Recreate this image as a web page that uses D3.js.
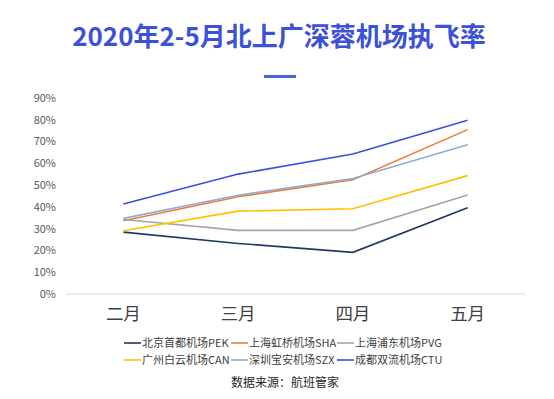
<!DOCTYPE html>
<html>
<head>
<meta charset="utf-8">
<script src="https://cdn.jsdelivr.net/npm/d3@7"></script>
<style>
    body { margin: 0; background: #fff; }
    svg text { font-family: "Noto Sans CJK SC", "Noto Sans", sans-serif; }
</style>
</head>
<body>
<svg id="chart" width="554" height="399"></svg>
<script>
var months = ['二月', '三月', '四月', '五月'];
var airports = ['北京首都机场PEK', '上海虹桥机场SHA', '上海浦东机场PVG', '广州白云机场CAN', '深圳宝安机场SZX', '成都双流机场CTU'];
var colors = ['#203864', '#ed7d31', '#a5a5a5', '#ffc000', '#8faadc', '#3a50dc'];

// 执飞率 (%), one array per airport
var pek = [28.4, 23.2, 19.1, 39.6];
var sha = [33.6, 44.6, 52.4, 75.4];
var pvg = [34.2, 29.2, 29.2, 45.4];
var can = [29.0, 38.0, 39.1, 54.3];
var szx = [34.7, 45.3, 53.0, 68.5];
var ctu = [41.3, 55.0, 64.2, 79.7];
var series = [pek, sha, pvg, can, szx, ctu];

var yTicks = [0, 10, 20, 30, 40, 50, 60, 70, 80, 90];

var svg = d3.select('#chart');

svg.append('text')
    .attr('x', 279).attr('y', 46)
    .attr('text-anchor', 'middle')
    .attr('font-size', 26).attr('font-weight', 'bold')
    .attr('fill', '#3d50d8')
    .text('2020年2-5月北上广深蓉机场执飞率');

svg.append('rect')
    .attr('x', 264).attr('y', 75).attr('width', 32).attr('height', 3)
    .attr('fill', '#4a5fe4');

var x = d3.scaleBand().domain(months).range([66, 525]);
var y = d3.scaleLinear().domain([0, 90]).range([294, 97.8]);

// y labels
var yAxis = d3.axisLeft(y).tickValues(yTicks).tickSize(0).tickPadding(0)
    .tickFormat(function (d) { return d + '%'; });
var gy = svg.append('g').attr('transform', 'translate(56,0)').call(yAxis);
gy.select('.domain').remove();
gy.selectAll('text').attr('font-size', 11).attr('fill', '#595959')
    .style('font-family', '"Noto Sans CJK SC", sans-serif');

// baseline
svg.append('line')
    .attr('x1', 66).attr('x2', 525).attr('y1', y(0)).attr('y2', y(0))
    .attr('stroke', '#d9d9d9').attr('stroke-width', 1);

// x labels
var xAxis = d3.axisBottom(x).tickSize(0).tickPadding(0);
var gx = svg.append('g').attr('transform', 'translate(0,305)').call(xAxis);
gx.select('.domain').remove();
gx.selectAll('text').attr('font-size', 17.5).attr('fill', '#404040')
    .attr('dy', '0.85em')
    .style('font-family', '"Noto Sans CJK SC", sans-serif');

var line = d3.line()
    .x(function (d, i) { return x(months[i]) + x.bandwidth() / 2; })
    .y(function (d) { return y(d); });

for (var i = 0; i < series.length; i++) {
    svg.append('path')
        .attr('d', line(series[i]))
        .attr('fill', 'none')
        .attr('stroke', colors[i])
        .attr('stroke-width', 1.6);
}

// legend
var legendPos = [[124, 343], [231, 343], [337, 343], [124, 360], [231, 360], [337, 360]];
for (var i = 0; i < airports.length; i++) {
    var g = svg.append('g').attr('transform', 'translate(' + legendPos[i][0] + ',' + legendPos[i][1] + ')');
    g.append('line').attr('x1', 0).attr('x2', 17).attr('y1', 0).attr('y2', 0)
        .attr('stroke', colors[i]).attr('stroke-width', 1.6);
    g.append('text').attr('x', 18).attr('y', 4.2)
        .attr('font-size', 11).attr('fill', '#404040')
        .text(airports[i]);
}

svg.append('text')
    .attr('x', 285).attr('y', 387)
    .attr('text-anchor', 'middle')
    .attr('font-size', 12).attr('fill', '#262626')
    .text('数据来源：航班管家');
</script>
</body>
</html>
